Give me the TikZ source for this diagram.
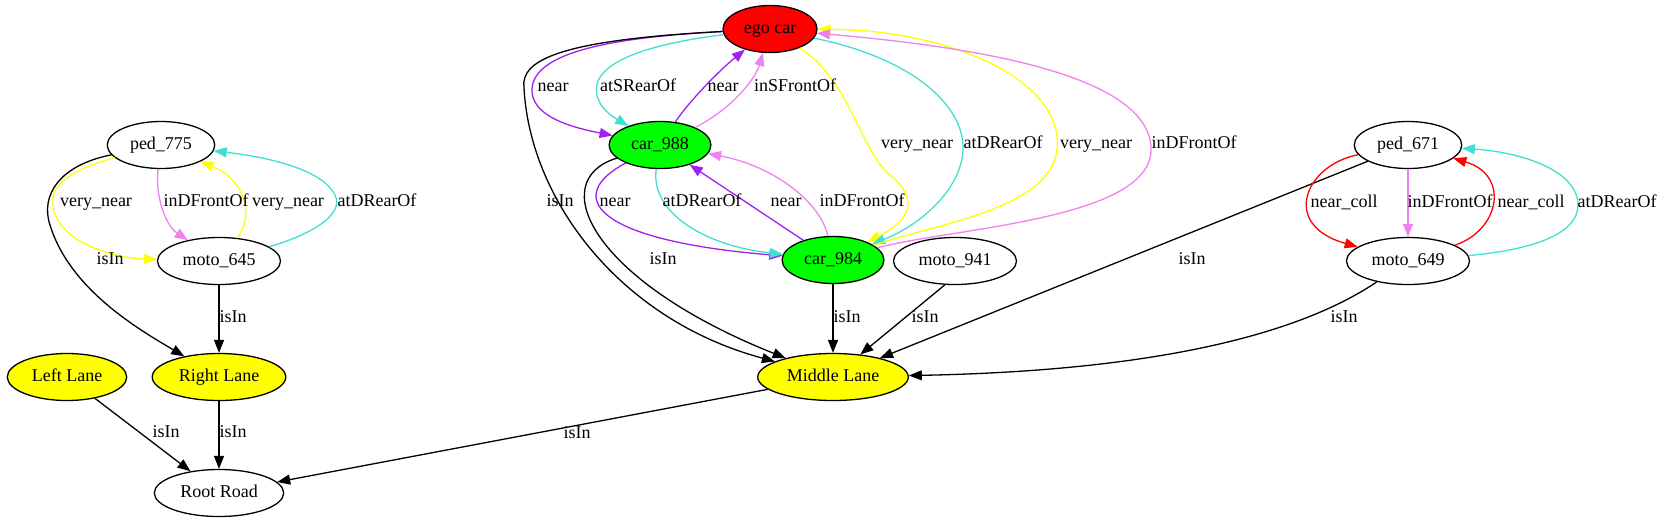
\documentclass[tikz,border=0pt]{standalone}
\usepackage{fontspec}
\setmainfont{Liberation Serif}
\usetikzlibrary{shapes,arrows.meta}
\definecolor{gvpurple}{HTML}{A020F0}
\definecolor{gvturq}{HTML}{40E0D0}
\definecolor{gvviolet}{HTML}{EE82EE}
\definecolor{gvgreen}{HTML}{00FF00}
\definecolor{gvyellow}{HTML}{FFFF00}
\tikzset{
	obj/.style={ellipse,draw,line width=1.3pt,fill=white,inner xsep=7pt,inner ysep=2pt,minimum height=47pt,text height=12pt,text depth=4pt},
	diredge/.style={->,>={Triangle[width=10pt,length=13pt]},line width=1.3pt,color=black},
	nearedge/.style={diredge,color=gvpurple},
	rearedge/.style={diredge,color=gvturq},
	frontedge/.style={diredge,color=gvviolet},
	vnearedge/.style={diredge,color=gvyellow},
	colledge/.style={diredge,color=red},
	elabel/.style={inner sep=0pt,text height=12pt,text depth=4pt}
}

\begin{document}
\begin{tikzpicture}[x=1pt,y=-1pt,font=\fontsize{18}{22}\selectfont]
		\useasboundingbox (0,0) rectangle (1663,523);
		\node [obj, fill=red] (ego) at (770,29) {ego car};
		\node [obj, fill=gvgreen] (car988) at (660,145) {car\_988};
		\node [obj, fill=gvgreen] (car984) at (833,260) {car\_984};
		\node [obj, fill=gvyellow] (mid) at (833,377) {Middle Lane};
		\node [obj] (moto941) at (955,261) {moto\_941};
		\node [obj] (ped775) at (161,145) {ped\_775};
		\node [obj] (moto645) at (219,261) {moto\_645};
		\node [obj, fill=gvyellow] (right) at (219,377) {Right Lane};
		\node [obj, fill=gvyellow] (left) at (67,377) {Left Lane};
		\node [obj] (root) at (219,493) {Root Road};
		\node [obj] (ped671) at (1408,145) {ped\_671};
		\node [obj] (moto649) at (1408,261) {moto\_649};

		% ego car and car_988
		\draw [nearedge] (ego) .. controls (600,38) and (530,55) .. (532,92) .. controls (534,118) and (575,128) .. (car988);
		\draw [rearedge] (ego) .. controls (640,45) and (590,65) .. (597,95) .. controls (600,108) and (610,115) .. (car988);
		\draw [nearedge] (car988) .. controls (690,100) and (720,70) .. (ego);
		\draw [frontedge] (car988) .. controls (730,110) and (755,80) .. (ego);
		\draw [diredge] (ego) .. controls (560,40) and (520,60) .. (524,88) .. controls (530,200) and (620,320) .. (mid);

		% car_988 and car_984
		\draw [nearedge] (car988) .. controls (565,195) and (590,240) .. (car984);
		\draw [rearedge] (car988) .. controls (650,210) and (700,245) .. (car984);
		\draw [nearedge] (car984) -- (car988);
		\draw [frontedge] (car984) .. controls (820,200) and (770,165) .. (car988);
		\draw [diredge] (car988) .. controls (545,180) and (590,280) .. (mid);

		% ego car and car_984
		\draw [vnearedge] (ego) .. controls (850,80) and (860,150) .. (890,175) .. controls (920,200) and (910,220) .. (car984);
		\draw [rearedge] (ego) .. controls (920,60) and (965,110) .. (963,150) .. controls (961,190) and (920,225) .. (car984);
		\draw [vnearedge] (car984) .. controls (930,225) and (1050,210) .. (1057,150) .. controls (1065,80) and (950,30) .. (ego);
		\draw [frontedge] (car984) .. controls (950,228) and (1150,220) .. (1151,150) .. controls (1152,70) and (950,45) .. (ego);

		% lanes
		\draw [diredge] (car984) -- (mid);
		\draw [diredge] (moto941.247) -- (mid);
		\draw [diredge] (ped671) -- (mid);
		\draw [diredge] (moto649) .. controls (1320,320) and (1200,370) .. (mid);
		\draw [diredge] (mid) -- (root);

		% ped_671 and moto_649
		\draw [colledge] (ped671) .. controls (1305,165) and (1280,225) .. (moto649);
		\draw [frontedge] (ped671) -- (moto649);
		\draw [colledge] (moto649) .. controls (1500,230) and (1510,175) .. (ped671);
		\draw [rearedge] (moto649) .. controls (1530,250) and (1578,235) .. (1578,205) .. controls (1578,170) and (1520,152) .. (ped671);

		% ped_775 and moto_645
		\draw [vnearedge] (ped775) .. controls (70,170) and (50,185) .. (53,205) .. controls (56,240) and (110,258) .. (moto645);
		\draw [frontedge] (ped775) .. controls (155,195) and (165,225) .. (moto645);
		\draw [vnearedge] (moto645) .. controls (255,215) and (245,180) .. (ped775);
		\draw [rearedge] (moto645) .. controls (310,235) and (345,215) .. (335,195) .. controls (320,165) and (250,155) .. (ped775);
		\draw [diredge] (ped775) .. controls (60,165) and (40,195) .. (50,225) .. controls (70,290) and (140,330) .. (right);
		\draw [diredge] (moto645) -- (right);
		\draw [diredge] (left) -- (root);
		\draw [diredge] (right) -- (root);

		% edge labels
		\node [elabel] (l1) at (553,87) {near};
		\node [elabel] (l2) at (638,87) {atSRearOf};
		\node [elabel] (l3) at (723,87) {near};
		\node [elabel] (l4) at (795,87) {inSFrontOf};
		\node [elabel] (l5) at (560,202) {isIn};
		\node [elabel] (l6) at (615,202) {near};
		\node [elabel] (l7) at (702,202) {atDRearOf};
		\node [elabel] (l8) at (786,202) {near};
		\node [elabel] (l9) at (862,202) {inDFrontOf};
		\node [elabel] (l10) at (663,260) {isIn};
		\node [elabel] (l11) at (917,144) {very\_near};
		\node [elabel] (l12) at (1003,144) {atDRearOf};
		\node [elabel] (l13) at (1096,144) {very\_near};
		\node [elabel] (l14) at (1194,144) {inDFrontOf};
		\node [elabel] (l15) at (847,318) {isIn};
		\node [elabel] (l16) at (925,318) {isIn};
		\node [elabel] (l17) at (1192,260) {isIn};
		\node [elabel] (l18) at (1344,318) {isIn};
		\node [elabel] (l19) at (577,434) {isIn};
		\node [elabel] (l20) at (1344,203) {near\_coll};
		\node [elabel] (l21) at (1450,203) {inDFrontOf};
		\node [elabel] (l22) at (1531,203) {near\_coll};
		\node [elabel] (l23) at (1617,203) {atDRearOf};
		\node [elabel] (l24) at (96,202) {very\_near};
		\node [elabel] (l25) at (206,202) {inDFrontOf};
		\node [elabel] (l26) at (288,202) {very\_near};
		\node [elabel] (l27) at (377,202) {atDRearOf};
		\node [elabel] (l28) at (110,260) {isIn};
		\node [elabel] (l29) at (233,318) {isIn};
		\node [elabel] (l30) at (166,433) {isIn};
		\node [elabel] (l31) at (233,433) {isIn};
	\end{tikzpicture}
\end{document}
